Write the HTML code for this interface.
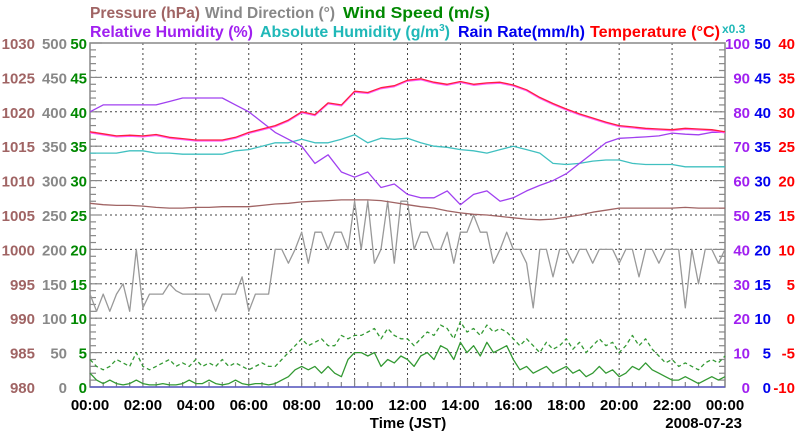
<!DOCTYPE html>
<html><head><meta charset="utf-8"><style>
html,body{margin:0;padding:0;background:#fff;}
svg{display:block;font-family:"Liberation Sans",sans-serif;font-weight:bold;}
</style></head><body>
<svg id="chart" width="800" height="434" viewBox="0 0 800 434" xmlns="http://www.w3.org/2000/svg">
<rect width="800" height="434" fill="#fff"/>
<g font-size="16">
<text x="90" y="18" fill="#a06464" textLength="110" lengthAdjust="spacingAndGlyphs">Pressure (hPa)</text>
<text x="205" y="18" fill="#888" textLength="130" lengthAdjust="spacingAndGlyphs">Wind Direction (°)</text>
<text x="343" y="18" fill="#008800" textLength="147" lengthAdjust="spacingAndGlyphs">Wind Speed (m/s)</text>
<text x="90" y="37" fill="#a020f0" textLength="163" lengthAdjust="spacingAndGlyphs">Relative Humidity (%)</text>
<text x="260" y="37" fill="#20b8b8" textLength="190" lengthAdjust="spacingAndGlyphs">Absolute Humidity (g/m<tspan font-size="10" dy="-6">3</tspan><tspan dy="6">)</tspan></text>
<text x="458" y="37" fill="#0000ee" textLength="127" lengthAdjust="spacingAndGlyphs">Rain Rate(mm/h)</text>
<text x="590" y="37" fill="#ff0000" textLength="130" lengthAdjust="spacingAndGlyphs">Temperature (°C)</text>
<text x="722" y="33" fill="#20b8b8" font-size="12">x0.3</text>
</g>
<g id="grid"></g>
<g id="axes"></g>
<g id="series"></g>
<text x="408" y="428" text-anchor="middle" font-size="15" fill="#000">Time (JST)</text>
<text x="742" y="428" text-anchor="end" font-size="15" fill="#000">2008-07-23</text>
</svg>
<script>
const xTickLabels = ["00:00","02:00","04:00","06:00","08:00","10:00","12:00","14:00","16:00","18:00","20:00","22:00","00:00"];
const pressureTicks = ["980","985","990","995","1000","1005","1010","1015","1020","1025","1030"];
const windDirTicks = ["0","50","100","150","200","250","300","350","400","450","500"];
const windSpeedTicks = ["0","5","10","15","20","25","30","35","40","45","50"];
const rhTicks = ["0","10","20","30","40","50","60","70","80","90","100"];
const rainTicks = ["0","5","10","15","20","25","30","35","40","45","50"];
const tempTicks = ["-10","-5","0","5","10","15","20","25","30","35","40"];
// half-hourly series
const temperature = [27.1,26.8,26.5,26.6,26.5,26.7,26.3,26.1,25.9,25.9,25.9,26.3,27.0,27.5,28.0,28.8,30.0,29.6,31.3,31.0,33.0,32.8,33.5,33.8,34.6,34.8,34.3,34.0,34.4,34.0,34.2,34.3,33.9,33.2,32.1,31.2,30.4,29.7,29.1,28.5,28.0,27.8,27.6,27.5,27.4,27.6,27.5,27.4,27.1];
const relHumidity = [80,82,82,82,82,82,83,84,84,84,84,82,80,77,74,72,70,65,67.5,62.5,61,62.5,58,59,56,55,55,57,53,56,57,54,55,57,58.6,60,62,65,68,71,72.3,72.5,72.7,73,73.8,73.5,73.3,74,74];
const absHumidity = [20.4,20.4,20.4,20.6,20.6,20.4,20.4,20.3,20.3,20.3,20.3,20.6,20.7,21.0,21.3,21.3,21.6,21.3,21.3,21.6,22.0,21.3,21.7,21.6,21.7,21.3,21.0,20.9,20.7,20.6,20.4,20.7,21.0,20.7,20.4,19.5,19.4,19.5,19.7,19.8,19.8,19.5,19.4,19.4,19.4,19.2,19.2,19.2,19.2];
const pressure = [1006.7,1006.5,1006.4,1006.4,1006.3,1006.1,1006.0,1006.0,1006.1,1006.1,1006.2,1006.2,1006.2,1006.4,1006.6,1006.7,1006.9,1007.0,1007.1,1007.2,1007.2,1007.2,1007.1,1006.8,1006.5,1006.2,1006.0,1005.6,1005.3,1005.1,1005.0,1004.8,1004.6,1004.4,1004.3,1004.4,1004.7,1005.0,1005.4,1005.7,1006.0,1006.0,1006.0,1006.0,1006.0,1006.1,1006.0,1006.0,1006.0];
const rainRate = [0,0,0,0,0,0,0,0,0,0,0,0,0,0,0,0,0,0,0,0,0,0,0,0,0,0,0,0,0,0,0,0,0,0,0,0,0,0,0,0,0,0,0,0,0,0,0,0,0];
// quarter-hourly series
const windDir = [135,110,135,110,135,150,110,200,115,135,135,135,150,140,135,135,135,135,135,110,135,135,135,160,110,135,135,135,
200,200,180,200,225,180,225,225,200,225,225,200,270,200,270,180,200,270,180,270,270,
200,225,225,200,200,225,180,225,225,250,225,225,180,200,225,200,
200,180,115,200,200,160,200,200,180,200,200,180,200,200,200,180,200,200,160,200,200,180,200,200,200,115,200,150,200,200,180,200];
const windSpeed = [2,1,0.5,1,0.5,0.3,0.5,1,0.5,0.3,0.3,0.5,0.3,0.3,0.5,1,0.5,0.5,1,0.5,0.3,0.5,1,0.5,0.3,0.5,0.5,0.3,
0.5,1,1.5,2.5,3,2.5,3,2,3,2,1.5,4,5,5,4.5,5,3,4,3.5,4.5,4,
3,4.5,5,4,6,5.5,4,6.5,5,6,4.5,6.5,5,5.5,6,4,
2.5,3,2,2.5,3,2,2.5,3,2,2.5,1.5,2,3,2,2.5,1.5,2,3,2.5,3.5,2.5,2,1.5,1,1,1.5,1,0.5,1,1.5,1,1.5];
const windGust = [4,3,2.5,3,4,3.5,3,5,3,2.5,3,3.5,4,3,3.5,3,4,3,3.5,3,4,3,3.5,3,2.5,3,3.5,3,
3,4,5,6,7,6,6.5,7,6,6,7.5,7,7.5,7.5,8,8.5,7,8.5,7.5,7,7,
6,7,8,7.5,9,8.5,7,9.5,8,8.5,7.5,9,8,8.5,8,7,
6,7,6,5,6.5,5.5,6,7,5.5,6.5,5,6,7,6,6.5,5,6,7.5,6,7,5.5,4.5,3.5,4,3,3.5,3,2.5,3.5,4,3.5,4.5];

const NS="http://www.w3.org/2000/svg";
const X0=90,X1=725,Y0=43,Y1=387;
function xScale(h){return X0+(X1-X0)*h/24;}
function yScale(v,min,max){return Y1-(Y1-Y0)*(v-min)/(max-min);}
function mk(tag,attrs,parent){const e=document.createElementNS(NS,tag);for(const k in attrs)e.setAttribute(k,attrs[k]);parent.appendChild(e);return e;}
const grid=document.getElementById('grid'),axes=document.getElementById('axes'),series=document.getElementById('series');

for(let i=1;i<10;i++){const y=Y0+(Y1-Y0)*i/10;
 const l=mk('line',{x1:X0,x2:X1,y1:y,y2:y,stroke:'#444','stroke-width':1,'stroke-dasharray':'2,3'},grid);
 
 }
for(let i=1;i<12;i++){const x=xScale(i*2);
 const l=mk('line',{x1:x,x2:x,y1:Y0,y2:Y1,stroke:'#444','stroke-width':1,'stroke-dasharray':'2,3'},grid);
 
 }
const fr=mk('rect',{x:X0,y:Y0,width:X1-X0,height:Y1-Y0,fill:'none',stroke:'#888','stroke-width':1.5},axes);


for(let i=0;i<=50;i++){const y=Y0+(Y1-Y0)*i/50;const len=i%5===0?12:6;
 const a=mk('line',{x1:X0,x2:X0+len,y1:y,y2:y,stroke:'#888','stroke-width':1.2},axes);
 
 
 const b=mk('line',{x1:X1-len,x2:X1,y1:y,y2:y,stroke:'#888','stroke-width':1.2},axes);
 
 }
for(let i=0;i<=48;i++){const x=xScale(i/2);const len=i%4===0?8:5;
 const a=mk('line',{x1:x,x2:x,y1:Y1-len,y2:Y1,stroke:'#888','stroke-width':1.2},axes);
 
 }
function colLabels(arr,x,anchor,color,name){arr.forEach((t,i)=>{const y=yScale(i,0,arr.length-1)+6;
 const e=mk('text',{x:x,y:y,'text-anchor':anchor,fill:color,'font-size':15},axes);e.textContent=t;
 
 });}
colLabels(pressureTicks,35,'end','#a06464','pressure-tick-label');
colLabels(windDirTicks,67,'end','#888','wind-direction-tick-label');
colLabels(windSpeedTicks,87,'end','#008800','wind-speed-tick-label');
colLabels(rhTicks,750,'end','#a020f0','humidity-tick-label');
colLabels(rainTicks,771,'end','#0000ee','rain-tick-label');
colLabels(tempTicks,795,'end','#ff0000','temperature-tick-label');
xTickLabels.forEach((t,i)=>{const e=mk('text',{x:xScale(i*2),y:410,'text-anchor':'middle',fill:'#000','font-size':15},axes);e.textContent=t;
 
 });

function line(data,step,min,max,color,name,extra){const pts=data.map((v,i)=>xScale(i*step).toFixed(1)+','+yScale(v,min,max).toFixed(1)).join(' ');
 const p=mk('polyline',Object.assign({points:pts,fill:'none',stroke:color,'stroke-width':1.3,'stroke-linejoin':'round'},extra||{}),series);
 
 }
line(windDir,0.25,0,500,'#999','wind-direction-line');
line(pressure,0.5,980,1030,'#a06464','pressure-line');
line(windGust,0.25,0,50,'#339933','wind-gust-line',{'stroke-dasharray':'4,3'});
line(windSpeed,0.25,0,50,'#339933','wind-speed-line');
line(absHumidity.map(v=>v/0.3),0.5,0,100,'#40c0c0','absolute-humidity-line');
line(relHumidity,0.5,0,100,'#a040f0','relative-humidity-line');
line(temperature,0.5,-10,40,'#ff60ff','temperature-shadow-line',{transform:'translate(0,1)'});
line(temperature,0.5,-10,40,'#ff2040','temperature-line');
line(rainRate,0.5,0,50,'#5050d0','rain-rate-line');
</script>
</body></html>
